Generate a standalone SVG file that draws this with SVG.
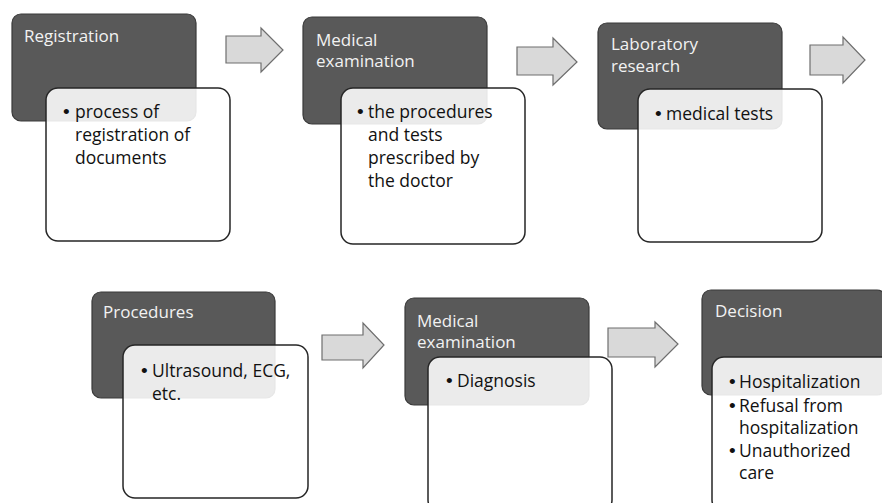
<svg xmlns="http://www.w3.org/2000/svg" width="882" height="503" viewBox="0 0 882 503">
<style>
.dark{fill:#595959;stroke:#3a3a3a;stroke-width:1.2}
.card{fill:#ffffff;fill-opacity:0.88;stroke:#262626;stroke-width:1.5}
.arrow{fill:#d9d9d9;stroke:#6e6e6e;stroke-width:1.2;stroke-linejoin:miter}
.title{font-family:"Open Sans","Liberation Sans",sans-serif;font-size:17px;fill:#f2f2f2}
.body{font-family:"Open Sans","Liberation Sans",sans-serif;font-size:17.5px;fill:#111111}
.bul{font-family:"Liberation Sans",sans-serif;font-size:19px;fill:#111111}
</style>
<rect width="882" height="503" fill="#ffffff"/>
<g id="connectors">
<polygon class="arrow" points="226,36 261,36 261,28 283,50 261,72 261,63 226,63"/>
<polygon class="arrow" points="517,47 553,47 553,38 577,62 553,85 553,75 517,75"/>
<polygon class="arrow" points="810,45 843,45 843,37 865,60 843,83 843,75 810,75"/>
<polygon class="arrow" points="322,335 363,335 363,323 384,345 363,368 363,360 322,360"/>
<polygon class="arrow" points="608,328 655,328 655,322 678,344 655,367 655,357 608,357"/>
</g>
<g id="node-registration">
<rect class="dark" x="12" y="14" width="184" height="107" rx="9"/>
<text class="title" x="24" y="42">Registration</text>
<rect class="card" x="46" y="88" width="184" height="153" rx="12"/>
<text class="bul" x="63" y="118">•</text>
<text class="body"><tspan x="75" y="118">process of</tspan><tspan x="75" y="141">registration of</tspan><tspan x="75" y="164">documents</tspan></text>
</g>
<g id="node-medical-exam-1">
<rect class="dark" x="303" y="17" width="184" height="107" rx="9"/>
<text class="title"><tspan x="316" y="46">Medical</tspan><tspan x="316" y="67">examination</tspan></text>
<rect class="card" x="341" y="88" width="184" height="156" rx="12"/>
<text class="bul" x="357" y="118">•</text>
<text class="body"><tspan x="368" y="118">the procedures</tspan><tspan x="368" y="141">and tests</tspan><tspan x="368" y="164">prescribed by</tspan><tspan x="368" y="187">the doctor</tspan></text>
</g>
<g id="node-laboratory">
<rect class="dark" x="598" y="23" width="184" height="106" rx="9"/>
<text class="title"><tspan x="611" y="50">Laboratory</tspan><tspan x="611" y="72">research</tspan></text>
<rect class="card" x="638" y="89" width="184" height="153" rx="12"/>
<text class="bul" x="655" y="120">•</text>
<text class="body" x="666" y="120">medical tests</text>
</g>
<g id="node-procedures">
<rect class="dark" x="92" y="292" width="183" height="106" rx="9"/>
<text class="title" x="103" y="318">Procedures</text>
<rect class="card" x="123" y="345" width="185" height="153" rx="12"/>
<text class="bul" x="141" y="377">•</text>
<text class="body"><tspan x="152" y="377">Ultrasound, ECG,</tspan><tspan x="152" y="400">etc.</tspan></text>
</g>
<g id="node-medical-exam-2">
<rect class="dark" x="405" y="298" width="184" height="107" rx="9"/>
<text class="title"><tspan x="417" y="327">Medical</tspan><tspan x="417" y="348">examination</tspan></text>
<rect class="card" x="428" y="357" width="184" height="155" rx="12"/>
<text class="bul" x="446" y="387">•</text>
<text class="body" x="457" y="387">Diagnosis</text>
</g>
<g id="node-decision">
<rect class="dark" x="702" y="290" width="184" height="105" rx="9"/>
<text class="title" x="715" y="317">Decision</text>
<rect class="card" x="712" y="357" width="184" height="155" rx="12"/>
<text class="bul" x="729" y="388">•</text>
<text class="bul" x="729" y="412">•</text>
<text class="bul" x="729" y="457">•</text>
<text class="body"><tspan x="739" y="388">Hospitalization</tspan><tspan x="739" y="412">Refusal from</tspan><tspan x="739" y="434">hospitalization</tspan><tspan x="739" y="457">Unauthorized</tspan><tspan x="739" y="479">care</tspan></text>
</g>
</svg>
